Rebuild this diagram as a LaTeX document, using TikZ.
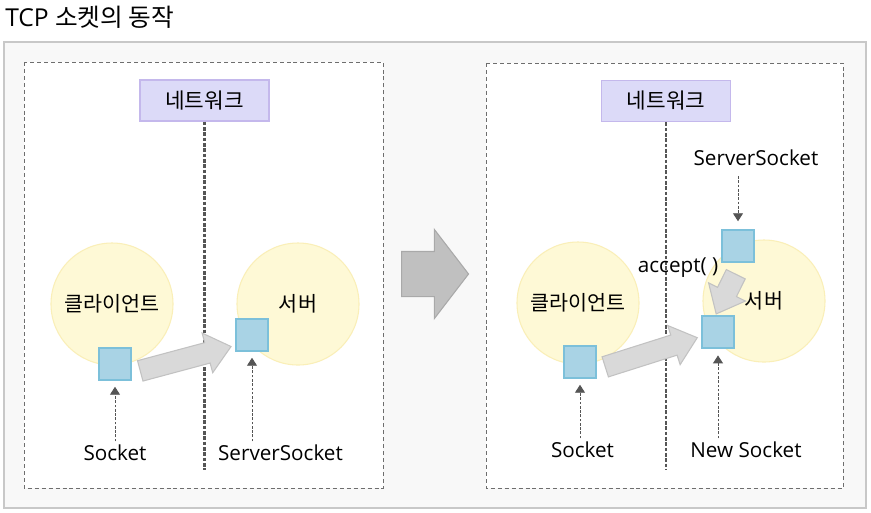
\documentclass[tikz,border=0pt]{standalone}
\usepackage{fontspec}
\setmainfont{Open Sans}
\newfontfamily\kr{Noto Sans CJK KR}
\usepackage{tikz}
\usetikzlibrary{positioning,arrows.meta,shapes.arrows}
\tikzset{>=Latex}

\definecolor{framefill}{HTML}{F8F8F8}
\definecolor{framegray}{HTML}{C8C8C8}
\definecolor{panelgray}{HTML}{6E6E6E}
\definecolor{netfill}{HTML}{DCDAF8}
\definecolor{netborder}{HTML}{C4B8EC}
\definecolor{linegray}{HTML}{555555}
\definecolor{hostfill}{HTML}{FEF9D6}
\definecolor{hostborder}{HTML}{FAEFB8}
\definecolor{sockfill}{HTML}{A9D3E5}
\definecolor{sockborder}{HTML}{7CC0DA}
\definecolor{flowfill}{HTML}{D9D9D9}
\definecolor{flowborder}{HTML}{C2C2C2}
\definecolor{bigfill}{HTML}{C0C0C0}
\definecolor{bigborder}{HTML}{A9A9A9}

\begin{document}
\begin{tikzpicture}[x=0.75pt, y=-0.75pt, font=\fontsize{15.5pt}{18pt}\selectfont]
    \tikzset{%
      panel/.style={draw=panelgray, fill=white, line width=0.7pt, dash pattern=on 3pt off 2.2pt},
      netbox/.style={draw=netborder, fill=netfill, line width=1pt, minimum width=96.75pt, minimum height=30.75pt, font=\kr\fontsize{16pt}{18pt}\selectfont},
      netline/.style={draw=linegray, line width=1.8pt, dash pattern=on 2.8pt off 1.2pt},
      host/.style={circle, draw=hostborder, fill=hostfill, line width=0.8pt, minimum size=91.5pt, inner sep=0pt, font=\kr\fontsize{15.5pt}{18pt}\selectfont},
      sock/.style={draw=sockborder, fill=sockfill, line width=1.1pt, minimum size=24pt, inner sep=0pt},
      lbl/.style={anchor=base, inner sep=2pt},
      lblarrow/.style={draw=linegray, line width=0.7pt, dash pattern=on 2pt off 1.2pt, -{Triangle[length=6pt,width=7.5pt]}},
      flow/.style={single arrow, draw=flowborder, fill=flowfill, line width=0.8pt, inner xsep=0pt, inner ysep=7.5pt, single arrow head extend=7.5pt, single arrow tip angle=80, pos=0, sloped, allow upside down, anchor=tail},
      bigflow/.style={single arrow, draw=bigborder, fill=bigfill, line width=0.8pt, inner xsep=0pt, inner ysep=16.5pt, single arrow head extend=16.5pt, single arrow tip angle=105, minimum height=50.25pt, anchor=tail}
      }
    \useasboundingbox (0,0) rectangle (871,512);

    \node [anchor=base west, inner sep=0pt, font=\fontsize{18.5pt}{22pt}\selectfont] (title) at (5,26) {TCP {\kr 소켓의 동작}};

    \draw [draw=framegray, fill=framefill, line width=1.5pt] (4,42) rectangle (866,508);
    \draw [panel] (24,62) rectangle (383,488);
    \draw [panel] (486,63) rectangle (843,488);

    \node [bigflow] (next) at (401,274) {};

    \node [netbox] (netL) at (204.5,100.5) {네트워크};
    \coordinate (netLend) at (204.5,470);
    \draw [netline] (netL.south) -- (netLend);
    \node [netbox] (netR) at (666,101) {네트워크};
    \coordinate (netRend) at (666,470);
    \draw [netline] (netR.south) -- (netRend);

    \node [host] (clientL) at (112,304) {클라이언트};
    \node [host] (serverL) at (298,304) {서버};
    \node [host] (clientR) at (578,303) {클라이언트};
    \node [host] (serverR) at (764,301) {서버};

    \node [sock] (csockL) at (115,364) {};
    \node [sock] (ssockL) at (252,335) {};
    \node [sock] (csockR) at (580,362) {};
    \node [sock] (ssockR) at (738,246) {};
    \node [sock] (nsockR) at (718,332) {};

    \path ([shift={(8,7)}]csockL.east) -- node [flow, minimum height=70.5pt] (connL) {} ([shift={(-6,12)}]ssockL.west);
    \path ([shift={(8,5)}]csockR.east) -- node [flow, minimum height=72.4pt] (connR) {} ([shift={(-5,6)}]nsockR.west);
    \path ([shift={(-2,11)}]ssockR.south) -- node [flow, minimum height=33.2pt] (acceptR) {} ([shift={(-1,-3)}]nsockR.north);

    \node [sock] at (ssockL) {};
    \node [sock] at (ssockR) {};
    \node [sock] at (nsockR) {};

    \node [lbl] (sockLabL) at (115,460) {Socket};
    \node [lbl] (ssLabL) at (280.5,460) {ServerSocket};
    \node [lbl] (sockLabR) at (582.5,457) {Socket};
    \node [lbl] (nsLabR) at (746,457) {New Socket};
    \node [lbl] (ssLabR) at (756,165) {ServerSocket};
    \node [lbl] (accept) at (678,272) {accept( )};

    \draw [lblarrow, shorten >=4.5pt] (sockLabL.north) -- (csockL.south);
    \draw [lblarrow, shorten >=4.5pt] (ssockL |- ssLabL.north) -- (ssockL.south);
    \draw [lblarrow, shorten >=4.5pt] (csockR |- sockLabR.north) -- (csockR.south);
    \draw [lblarrow, shorten >=5pt] (nsockR |- nsLabR.north) -- (nsockR.south);
    \draw [lblarrow, shorten <=6pt, shorten >=6pt] (ssockR |- ssLabR.south) -- (ssockR.north);

\end{tikzpicture}
\end{document}
